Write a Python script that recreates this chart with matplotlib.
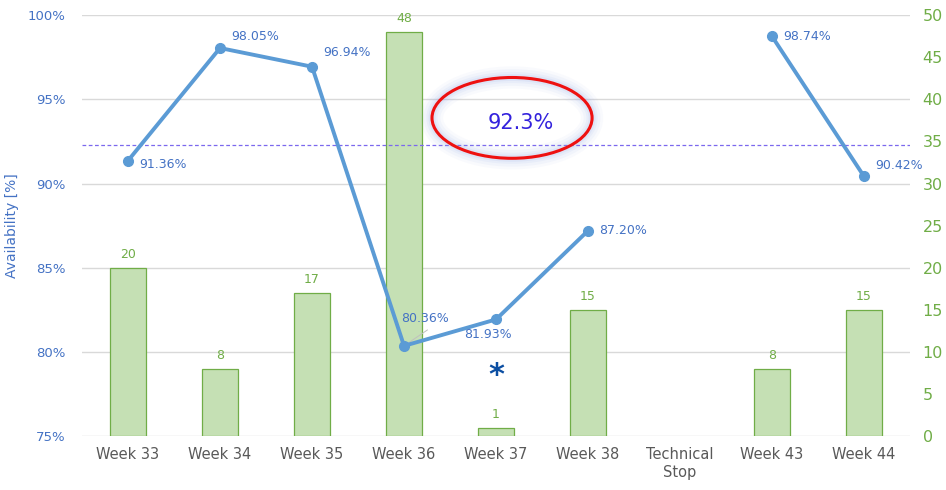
import numpy as np
import matplotlib
matplotlib.use("Agg")
import matplotlib.pyplot as plt
from matplotlib.patches import Ellipse
from matplotlib.ticker import FuncFormatter, MultipleLocator

categories = ["Week 33", "Week 34", "Week 35", "Week 36", "Week 37", "Week 38",
              "Technical\nStop", "Week 43", "Week 44"]
availability = [91.36, 98.05, 96.94, 80.36, 81.93, 87.20, np.nan, 98.74, 90.42]
counts = [20, 8, 17, 48, 1, 15, np.nan, 8, 15]
average = 92.3
average_label = "92.3%"
note_index = 4
note_value = 78.6

BLUE_TXT = "#4472C4"
GREEN_TXT = "#70AD47"
LINE = "#5B9BD5"
BAR_FILL = "#C5E0B4"
GRID = "#D9D9D9"

fig = plt.figure(figsize=(9.46, 4.9), dpi=100)
ax2 = fig.add_axes([0.0867, 0.110, 0.8753, 0.859])
ax = ax2.twinx()
ax.yaxis.tick_left(); ax.yaxis.set_label_position("left")
ax2.yaxis.tick_right(); ax2.yaxis.set_label_position("right")

x = np.arange(len(categories))

# bars (right axis)
bars_x = [i for i, c in enumerate(counts) if not np.isnan(c)]
bars_v = [c for c in counts if not np.isnan(c)]
ax2.set_ylim(0, 50)
# gridlines aligned with the left-axis major ticks (every 5 %)
for v in np.arange(0, 51, 10):
    ax2.axhline(v, color=GRID, linewidth=1, zorder=0)
ax2.bar(bars_x, bars_v, width=0.4, color=BAR_FILL, edgecolor=GREEN_TXT, linewidth=0.9, zorder=2)
for xi, v in zip(bars_x, bars_v):
    ax2.annotate(f"{v:g}", (xi, v), xytext=(0, 5), textcoords="offset points",
                 ha="center", va="bottom", color=GREEN_TXT, fontsize=9)
ax2.yaxis.set_major_locator(MultipleLocator(5))
ax2.tick_params(axis="y", which="both", length=0, colors=GREEN_TXT, labelsize=11.5, pad=9)
ax2.tick_params(axis="x", length=0, labelsize=10.5, colors="#595959", pad=8)
ax2.set_xticks(x)
ax2.set_xticklabels(categories)
ax2.set_xlim(-0.5, len(categories) - 0.5)
for s in ["top", "left", "right", "bottom"]:
    ax2.spines[s].set_visible(False)

# line (left axis)
ax.plot(x, availability, color=LINE, linewidth=2.8, marker="o", markersize=7,
        solid_capstyle="round", zorder=5)
ax.set_ylim(75, 100)
ax.yaxis.set_major_locator(MultipleLocator(5))
ax.yaxis.set_major_formatter(FuncFormatter(lambda v, p: f"{v:.0f}%"))
ax.tick_params(axis="y", length=0, colors=BLUE_TXT, labelsize=9.5, pad=12)
ax.set_ylabel("Availability [%]", color=BLUE_TXT, fontsize=10, labelpad=6)
for s in ax.spines.values():
    s.set_visible(False)

offsets = {0: (8, -3), 1: (8, 8), 2: (8, 10), 3: (-2, 20), 4: (-6, -11), 5: (8, 0),
           7: (8, 0), 8: (8, 8)}
for i, v in enumerate(availability):
    if np.isnan(v):
        continue
    dx, dy = offsets[i]
    ha = "center" if i == 4 else "left"
    ax.annotate(f"{v:.2f}%", (x[i], v), xytext=(dx, dy), textcoords="offset points",
                ha=ha, va="center", color=BLUE_TXT, fontsize=9, zorder=6)
# leader line for week 36 label
ax.annotate("", (x[3], availability[3]), xytext=(x[3] + 0.28, 81.4),
            arrowprops=dict(arrowstyle="-", color="#BFBFBF", lw=0.7), zorder=4)

# average line
ax.axhline(average, color="#7B68EE", linestyle=(0, (3, 2)), linewidth=0.9, zorder=3)
ax.set_xlim(-0.5, len(categories) - 0.5)

# ellipse with glow
ecx, ecy, ew, eh = 4.174, 93.9, 1.74, 4.8
for lw, a in [(16, 0.05), (12, 0.07), (8, 0.09), (5, 0.12)]:
    ax.add_patch(Ellipse((ecx, ecy), ew, eh, fill=False, edgecolor="#8FA8E8",
                         linewidth=lw, alpha=a, zorder=6))
ax.add_patch(Ellipse((ecx, ecy), ew, eh, fill=False,
                     edgecolor="#EE1111", linewidth=2.2, zorder=7))
ax.text(4.27, 93.6, average_label, ha="center", va="center",
        color="#3322DD", fontsize=15, zorder=8)

# asterisk note
ax.text(x[note_index], note_value, "*", ha="center", va="center", color="#0B4EA2",
        fontsize=22, fontweight="bold", zorder=8)

fig.savefig("out.png", dpi=100)
